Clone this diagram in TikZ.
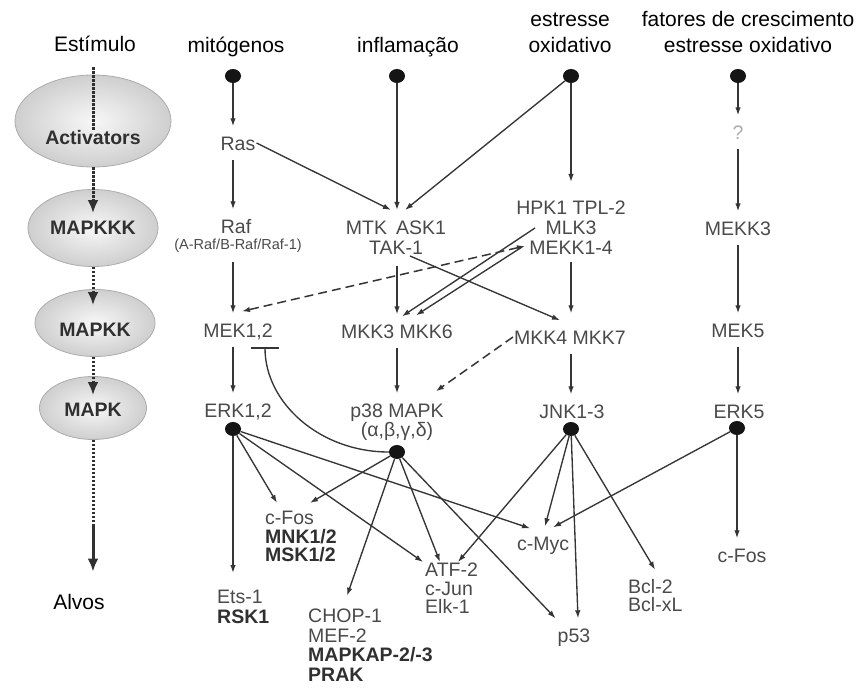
\documentclass[tikz,border=0pt]{standalone}
\usepackage{fontspec}
\setmainfont{Liberation Sans}
\usetikzlibrary{arrows.meta,shapes.geometric,calc}
\definecolor{lblgray}{HTML}{4A4A4A}
\definecolor{boldgray}{HTML}{303030}
\definecolor{linegray}{HTML}{353535}
\definecolor{dotblack}{HTML}{151515}
\newcommand{\boldlbl}[1]{\textcolor{boldgray}{\bfseries #1}}
\begin{document}
\begin{tikzpicture}[x=1pt,y=-1pt,
  lbl/.style={font=\fontsize{19.5}{20}\selectfont, text=lblgray, inner sep=0pt},
  one/.style={lbl, text height=22pt, text depth=7pt, inner ysep=2pt, inner xsep=1pt},
  multi/.style={lbl, align=left, anchor=west},
  hdr/.style={font=\fontsize{21}{24}\selectfont, text=black, inner sep=0pt, anchor=base},
  blob/.style={ellipse, fill=dotblack, minimum width=16pt, minimum height=14pt, inner sep=0pt},
  arr/.style={draw=linegray, line width=1.35pt, -{Latex[length=8pt,width=5.5pt]}},
  dasharr/.style={draw=linegray, line width=1.5pt, dash pattern=on 9pt off 5pt, {Latex[length=8pt,width=5.5pt]}-{Latex[length=8pt,width=5.5pt]}},
  dasharrone/.style={draw=linegray, line width=1.5pt, dash pattern=on 9pt off 5pt, -{Latex[length=8pt,width=5.5pt]}},
  inh/.style={draw=linegray, line width=1.35pt, -{Bar[width=28pt,line width=2pt]}},
  lvl/.style={ellipse, draw=gray!65, line width=0.8pt, inner sep=0pt, inner color=gray!6, outer color=gray!38},
  lvltxt/.style={font=\fontsize{19.5}{20}\selectfont\bfseries, text=boldgray, inner sep=0pt},
  dotline/.style={draw=boldgray, line width=3pt, dash pattern=on 2.4pt off 1.6pt},
  dotarr/.style={dotline, -{Latex[length=13pt,width=11pt]}},
  thickarr/.style={draw=boldgray, line width=3pt, -{Latex[length=13pt,width=11pt]}}
]
\fill[white] (0,0) rectangle (858,687);
\useasboundingbox (0,0) rectangle (858,687);

% headers
\node[hdr] (estim) at (95,52) {Estímulo};
\node[hdr] (hmit) at (236,53) {mitógenos};
\node[hdr] (hinf) at (408,53) {inflamação};
\node[hdr] (hest1) at (570,27) {estresse};
\node[hdr] (hest2) at (570,53) {oxidativo};
\node[hdr] (hfat1) at (748,27) {fatores de crescimento};
\node[hdr] (hfat2) at (748,53) {estresse oxidativo};
\node[hdr] (alvos) at (79,609) {Alvos};

% level ellipses
\node[lvl, minimum width=156pt, minimum height=92pt] (act) at (93,121) {};
\node[lvl, minimum width=130pt, minimum height=77pt] (mkkk) at (93,228) {};
\node[lvl, minimum width=120pt, minimum height=67pt] (mkk) at (95,323) {};
\node[lvl, minimum width=107pt, minimum height=63pt] (mk) at (93,408) {};
\node[lvltxt] (actt) at (93,138) {Activators};
\node[lvltxt] (mkkkt) at (93,228) {MAPKKK};
\node[lvltxt] (mkkt) at (95,330) {MAPKK};
\node[lvltxt] (mkt) at (93,410) {MAPK};
\coordinate (mid) at (93,525);

\draw[dotline, shorten <=15pt] (actt |- estim.south) -- (actt.north);
\draw[dotarr, shorten >=8pt] (act.south) -- (mkkkt.north);
\draw[dotarr, shorten >=18pt] (mkkk.south) -- (mkkt.north -| mkkk);
\draw[dotarr, shorten >=8pt] (mkk.south -| mk) -- (mkt.north);
\draw[dotline] (mk.south) -- (mid);
\draw[thickarr, shorten >=22pt] (mid) -- (mid |- alvos.north);

% column 1
\node[blob] (d1) at (233,76) {};
\node[one] (ras) at (238,143) {Ras};
\node[one] (raf) at (236,226) {Raf};
\node[lbl, font=\fontsize{14.5}{15}\selectfont] (rafsub) at (238,246) {(A-Raf/B-Raf/Raf-1)};
\node[one] (mek12) at (238,330) {MEK1,2};
\node[one] (erk12) at (238,410) {ERK1,2};
\node[blob] (erkd) at (233,429) {};
\node[multi] (ets) at (217,607) {Ets-1\\\boldlbl{RSK1}};

% column 2
\node[blob] (d2) at (397,76) {};
\node[lbl, align=center, inner ysep=11pt] (mtk) at (396,238) {MTK\hspace{9pt}ASK1\\TAK-1};
\node[one] (mkk36) at (397,331) {MKK3 MKK6};
\node[one] (p38) at (397,410) {p38 MAPK};
\node[lbl] (p38g) at (397,431) {(α,β,γ,δ)};
\node[blob] (p38d) at (397,452) {};

% column 3
\node[blob] (d3) at (571,76) {};
\node[lbl, align=center, inner ysep=12pt] (hpk) at (571,228) {HPK1 TPL-2\\MLK3\\MEKK1-4};
\node[one] (mkk47) at (570,337) {MKK4 MKK7};
\node[one] (jnk) at (572,411) {JNK1-3};
\node[blob] (jnkd) at (571,429) {};

% column 4
\node[blob] (d4) at (738,76) {};
\node[one, text=gray!65] (q) at (738,132) {?};
\node[one] (mekk3) at (738,228) {MEKK3};
\node[one] (mek5) at (738,330) {MEK5};
\node[one] (erk5) at (739,411) {ERK5};
\node[blob] (erk5d) at (737,428) {};
\node[one] (cfos2) at (742,555) {c-Fos};

% targets
\node[multi, font=\fontsize{19.5}{18.5}\selectfont] (cfos1) at (265,536.5) {c-Fos\\\boldlbl{MNK1/2}\\\boldlbl{MSK1/2}};
\node[multi, font=\fontsize{19.5}{18.5}\selectfont] (atf) at (425,588.5) {ATF-2\\c-Jun\\Elk-1};
\node[multi, font=\fontsize{19.5}{19.5}\selectfont] (chop) at (308,645) {CHOP-1\\MEF-2\\\boldlbl{MAPKAP-2/-3}\\\boldlbl{PRAK}};
\node[one] (cmyc) at (543,543) {c-Myc};
\node[one] (p53) at (574,635) {p53};
\node[multi, font=\fontsize{19.5}{18}\selectfont] (bcl) at (628,596) {Bcl-2\\Bcl-xL};

% column 1 connectors
\draw[arr] (d1) -- (d1 |- ras.north);
\draw[arr] (ras.south -| d1) -- (d1 |- raf.north);
\draw[arr, shorten <=9pt] (rafsub.south -| d1) -- (d1 |- mek12.north);
\draw[arr] (mek12.south -| d1) -- (d1 |- erk12.north);
\draw[arr, shorten >=17pt] (erkd) -- (erkd |- ets.north);

% column 2 connectors
\draw[arr] (d2) -- (d2 |- mtk.north);
\draw[arr] (mtk.south -| d2) -- (d2 |- mkk36.north);
\draw[arr] (mkk36.south -| d2) -- (d2 |- p38.north);

% column 3 connectors
\draw[arr, shorten >=7pt] (d3) -- (d3 |- hpk.north);
\draw[arr, shorten <=-5pt, shorten >=7pt] (hpk.south -| d3) -- (d3 |- mkk47.north);
\draw[arr] (mkk47.south -| d3) -- (d3 |- jnk.north);

% column 4 connectors
\draw[arr] (d4) -- (d4 |- q.north);
\draw[arr] (q.south -| d4) -- (d4 |- mekk3.north);
\draw[arr] (mekk3.south -| d4) -- (d4 |- mek5.north);
\draw[arr] (mek5.south -| d4) -- (d4 |- erk5.north);
\draw[arr] (erk5d) -- (erk5d |- cfos2.north);

% cross connectors
\draw[arr] (ras.east) -- ([xshift=-5pt]mtk.north);
\draw[arr] (d3) -- ([xshift=9pt]mtk.north);
\draw[arr] ([xshift=14pt,yshift=10pt]mtk.south) -- ([xshift=-10pt]mkk47.north);
\draw[arr] ([xshift=-36pt]hpk.center) -- ([xshift=5pt,yshift=-2pt]mkk36.north);
\draw[arr] ([xshift=-49pt,yshift=-19pt]hpk.center) -- ([xshift=19pt,yshift=-1pt]mkk36.north);
\draw[dasharr] ([xshift=-46pt,yshift=-18pt]hpk.center) -- ([xshift=4pt,yshift=2pt]mek12.north);
\draw[dasharrone] (mkk47.west) -- ([xshift=-9pt,yshift=2pt]p38.north east);
\draw[inh] (p38d) .. controls (320,452) and (265,403) .. ([xshift=27pt]mek12.south);

% ERK1,2 targets
\draw[arr] (erkd) -- ([xshift=12pt,yshift=8pt]cfos1.north west);
\draw[arr] (erkd) -- ([xshift=-2pt,yshift=1pt]atf.north west);
\draw[arr] (erkd) -- ([xshift=-13pt,yshift=-2pt]cmyc.north);

% p38 targets
\draw[arr] (p38d) -- ([xshift=45pt,yshift=8pt]cfos1.north west);
\draw[arr] (p38d) -- ([xshift=39pt,yshift=13pt]chop.north west);
\draw[arr] (p38d) -- ([xshift=15pt,yshift=1pt]atf.north west);
\draw[arr] (p38d) -- ([xshift=-1pt]p53.north west);

% JNK targets
\draw[arr] (jnkd) -- ([xshift=33pt,yshift=1pt]atf.north west);
\draw[arr] (jnkd) -- ([xshift=2pt]cmyc.north);
\draw[arr] (jnkd) -- ([xshift=4pt]p53.north);
\draw[arr] (jnkd) -- ([xshift=27pt,yshift=10pt]bcl.north west);

% ERK5 targets
\draw[arr] (erk5d) -- ([xshift=10pt,yshift=-1pt]cmyc.north);
\end{tikzpicture}
\end{document}
